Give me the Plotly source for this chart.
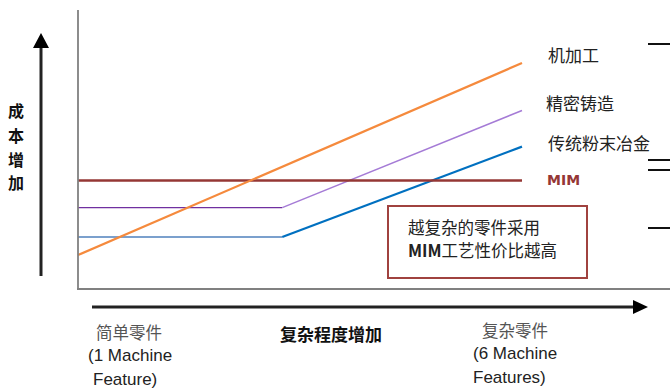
import plotly.graph_objects as go

W, H = 670, 390

# ---- data (complexity 0..100, cost index) ----
complexity = [0, 46, 100]
machining = [15, 100]          # 机加工: straight line from start to end
casting = [36, 36, 79]         # 精密铸造
powder = [23, 23, 63]          # 传统粉末冶金
mim = [48, 48]                 # MIM: flat
series_labels = ["机加工", "精密铸造", "传统粉末冶金", "MIM"]

# ---- pixel mapping for axes ----
X0PX, X1PX = 78, 522      # pixel positions of complexity 0 and 100
Y0PX, Y1PX = 289, 63      # pixel positions of cost 0 and 100
sx = (X1PX - X0PX) / 100.0
sy = (Y0PX - Y1PX) / 100.0
xrange_ = [(0 - X0PX) / sx, (W - X0PX) / sx]
yrange_ = [(Y0PX - H) / sy, Y0PX / sy]


def px(x):
    return x / W


def py(y):
    return 1 - y / H


fig = go.Figure()

# flat parts (thin, darker)
fig.add_trace(go.Scatter(x=complexity[:2], y=casting[:2], mode="lines",
                         line=dict(color="#7030A0", width=1.3), hoverinfo="skip"))
fig.add_trace(go.Scatter(x=complexity[:2], y=powder[:2], mode="lines",
                         line=dict(color="#4F81BD", width=1.3), hoverinfo="skip"))
# rising parts
fig.add_trace(go.Scatter(x=complexity[1:], y=casting[1:], mode="lines",
                         line=dict(color="#A57BD6", width=1.5), hoverinfo="skip"))
fig.add_trace(go.Scatter(x=complexity[1:], y=powder[1:], mode="lines",
                         line=dict(color="#0070C0", width=2.2), hoverinfo="skip"))
fig.add_trace(go.Scatter(x=[complexity[0], complexity[-1]], y=mim, mode="lines",
                         line=dict(color="#953735", width=2.5), hoverinfo="skip"))
fig.add_trace(go.Scatter(x=[complexity[0], complexity[-1]], y=machining, mode="lines",
                         line=dict(color="#F58A3D", width=2.2), hoverinfo="skip"))

shapes = []
# gray frame
shapes.append(dict(type="line", xref="paper", yref="paper", x0=px(78), x1=px(78),
                   y0=py(10), y1=py(289), line=dict(color="#808080", width=1.8)))
shapes.append(dict(type="line", xref="paper", yref="paper", x0=px(77), x1=px(670),
                   y0=py(289), y1=py(289), line=dict(color="#808080", width=1.8)))
# vertical arrow
shapes.append(dict(type="line", xref="paper", yref="paper", x0=px(41), x1=px(41),
                   y0=py(46), y1=py(276), line=dict(color="#222222", width=3)))
shapes.append(dict(type="path", xref="paper", yref="paper",
                   path=f"M {px(41)} {py(33)} L {px(33)} {py(48)} L {px(49)} {py(48)} Z",
                   fillcolor="#000000", line=dict(width=0)))
# horizontal arrow
shapes.append(dict(type="line", xref="paper", yref="paper", x0=px(92), x1=px(635),
                   y0=py(307), y1=py(307), line=dict(color="#222222", width=3)))
shapes.append(dict(type="path", xref="paper", yref="paper",
                   path=f"M {px(648)} {py(307)} L {px(633)} {py(300)} L {px(633)} {py(314)} Z",
                   fillcolor="#000000", line=dict(width=0)))
# box
shapes.append(dict(type="rect", xref="paper", yref="paper", x0=px(388), x1=px(587),
                   y0=py(278), y1=py(206), line=dict(color="#A0423F", width=2),
                   fillcolor="white", layer="below"))
# right-edge dashes
for yy in [44, 160, 170, 228]:
    shapes.append(dict(type="line", xref="paper", yref="paper", x0=px(648), x1=px(672),
                       y0=py(yy), y1=py(yy), line=dict(color="#111111", width=2)))

CJK = "Noto Sans CJK SC"
ann = []


def add(text, x, y, size=16, color="#222222", xanchor="left", bold=False, family=CJK):
    if bold:
        text = f"<b>{text}</b>"
    ann.append(dict(text=text, x=px(x), y=py(y), xref="paper", yref="paper",
                    xanchor=xanchor, yanchor="middle", showarrow=False,
                    font=dict(size=size, color=color, family=family)))


# y label
for ch, yy in zip("成本增加", [110, 135, 159, 182]):
    add(ch, 16, yy, size=16, color="#111111", xanchor="center", bold=True)

# series labels
add(series_labels[0], 546, 55, size=17)
add(series_labels[1], 544, 103, size=17)
add(series_labels[2], 546, 142, size=17)
add(series_labels[3], 545, 180, size=14, color="#953735", bold=True,
    family="DejaVu Sans")

# box text
add("越复杂的零件采用", 406, 227, size=16.5)
add("<b>MIM</b>工艺性价比越高", 406, 250, size=16.5)

# bottom labels
add("简单零件", 129, 332, size=16.5, color="#555555", xanchor="center")
add("(1 Machine", 86, 355, size=17, family="Liberation Sans")
add("Feature)", 91, 379, size=17, family="Liberation Sans")
add("复杂程度增加", 331, 333, size=17, color="#111111", xanchor="center", bold=True)
add("复杂零件", 515, 330, size=16.5, color="#555555", xanchor="center")
add("(6 Machine", 471, 353, size=17, family="Liberation Sans")
add("Features)", 471, 377, size=17, family="Liberation Sans")

fig.update_layout(
    width=W, height=H, margin=dict(l=0, r=0, t=0, b=0),
    paper_bgcolor="white", plot_bgcolor="white", showlegend=False,
    xaxis=dict(range=xrange_, visible=False, fixedrange=True),
    yaxis=dict(range=yrange_, visible=False, fixedrange=True),
    shapes=shapes, annotations=ann,
)

fig.write_html("out.html")
